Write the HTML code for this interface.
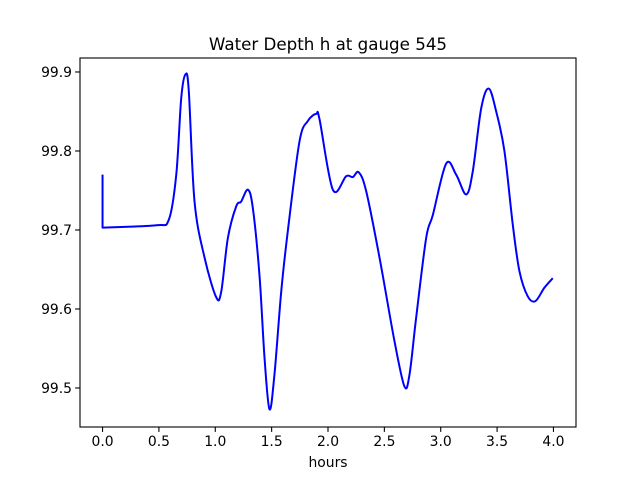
<!DOCTYPE html>
<html><head><meta charset="utf-8"><style>
body{margin:0;background:#fff}
svg text{font-family:"DejaVu Sans","Liberation Sans",sans-serif;fill:#000}
</style></head><body>
<svg id="c" width="640" height="480" xmlns="http://www.w3.org/2000/svg"></svg>
<script>
const hours=[0,0,0.476,0.588,0.654,0.698,0.736,0.765,0.816,0.905,1.008,1.053,1.112,1.186,1.230,1.289,1.333,1.392,1.437,1.481,1.525,1.585,1.643,1.747,1.821,1.895,1.925,2.043,2.161,2.220,2.273,2.339,2.457,2.590,2.678,2.723,2.782,2.871,2.930,3.048,3.137,3.226,3.284,3.359,3.426,3.492,3.565,3.639,3.698,3.772,3.840,3.920,3.994];
const depth=[99.770,99.703,99.706,99.713,99.770,99.867,99.897,99.876,99.736,99.665,99.615,99.622,99.690,99.730,99.736,99.751,99.728,99.643,99.538,99.473,99.517,99.622,99.698,99.812,99.838,99.847,99.840,99.751,99.768,99.767,99.773,99.749,99.665,99.559,99.502,99.517,99.589,99.690,99.719,99.784,99.770,99.745,99.774,99.854,99.879,99.850,99.800,99.707,99.648,99.616,99.610,99.627,99.639];
const xTicks=[0,0.5,1,1.5,2,2.5,3,3.5,4];
const xTickLabels=["0.0","0.5","1.0","1.5","2.0","2.5","3.0","3.5","4.0"];
const yTicks=[99.5,99.6,99.7,99.8,99.9];
const yTickLabels=["99.5","99.6","99.7","99.8","99.9"];
const L=80,R=576,T=58,B=427;
const X0=-0.2,X1=4.2,Y0=99.4506,Y1=99.9177;
const sx=v=>L+(v-X0)/(X1-X0)*(R-L);
const sy=v=>B-(v-Y0)/(Y1-Y0)*(B-T);
const svg=document.getElementById('c');
const NS='http://www.w3.org/2000/svg';
function mk(tag,attrs,parent){const e=document.createElementNS(NS,tag);for(const k in attrs)e.setAttribute(k,attrs[k]);(parent||svg).appendChild(e);return e;}
const pts=hours.map((h,i)=>[sx(h),sy(depth[i])]);
let d='M'+pts[0][0]+','+pts[0][1]+' L'+pts[1][0]+','+pts[1][1];
for(let i=1;i<pts.length-1;i++){
  const p0=pts[Math.max(i-1,1)],p1=pts[i],p2=pts[i+1],p3=pts[Math.min(i+2,pts.length-1)];
  const c1=[p1[0]+(p2[0]-p0[0])/6,p1[1]+(p2[1]-p0[1])/6];
  const c2=[p2[0]-(p3[0]-p1[0])/6,p2[1]-(p3[1]-p1[1])/6];
  d+=' C'+c1[0]+','+c1[1]+' '+c2[0]+','+c2[1]+' '+p2[0]+','+p2[1];
}
const line=mk('path',{d:d,fill:'none',stroke:'#0000ff','stroke-width':2,'stroke-linejoin':'round'});


const frame=mk('rect',{x:L,y:T,width:R-L,height:B-T,fill:'none',stroke:'#000','stroke-width':1.1});


xTicks.forEach((t,i)=>{
  const x=sx(t);
  mk('line',{x1:x,x2:x,y1:B,y2:B+4.9,stroke:'#000','stroke-width':1.1});
  const tx=mk('text',{x:x,y:B+19,'font-size':13.9,'text-anchor':'middle'});
  tx.textContent=xTickLabels[i];
  
  
});
yTicks.forEach((t,i)=>{
  const y=sy(t);
  mk('line',{x1:L-4.9,x2:L,y1:y,y2:y,stroke:'#000','stroke-width':1.1});
  const tx=mk('text',{x:L-8,y:y+5,'font-size':13.9,'text-anchor':'end'});
  tx.textContent=yTickLabels[i];
  
  
});
const title=mk('text',{x:(L+R)/2,y:50,'font-size':16.7,'text-anchor':'middle'});
title.textContent='Water Depth h at gauge 545';


const xl=mk('text',{x:(L+R)/2,y:467,'font-size':13.9,'text-anchor':'middle'});
xl.textContent='hours';


</script>
</body></html>
